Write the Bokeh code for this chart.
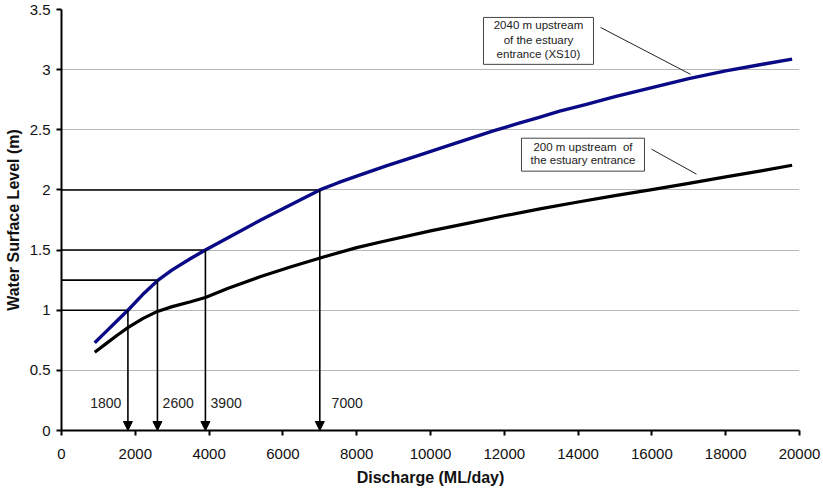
from bokeh.plotting import figure
from bokeh.models import Arrow, NormalHead, ColumnDataSource, FixedTicker, Range1d
from bokeh.core.properties import value
from bokeh.embed import file_html
from bokeh.resources import INLINE

# ---- data ----
q_upper = [900, 1200, 1500, 1800, 2200, 2600, 3000, 3500, 3900, 4500, 5400, 6200,
           7000, 7500, 8000, 8800, 9700, 10500, 11100, 11700, 12400, 12900, 13500,
           14200, 15000, 16000, 17000, 18000, 19000, 19800]
wl_upper = [0.73, 0.82, 0.91, 1.00, 1.13, 1.245, 1.335, 1.43, 1.50, 1.60, 1.75, 1.875,
            2.00, 2.06, 2.115, 2.20, 2.29, 2.37, 2.43, 2.49, 2.555, 2.60, 2.655,
            2.71, 2.775, 2.85, 2.925, 2.99, 3.045, 3.088]

q_lower = [900, 1200, 1500, 1800, 2200, 2600, 3000, 3500, 3900, 4500, 5400, 6200,
           7100, 8000, 8650, 10000, 11000, 12000, 13000, 14000, 15000, 16000, 17000,
           18000, 19000, 19800]
wl_lower = [0.65, 0.72, 0.79, 0.855, 0.93, 0.99, 1.03, 1.07, 1.105, 1.18, 1.28, 1.36,
            1.443, 1.52, 1.567, 1.66, 1.722, 1.785, 1.845, 1.90, 1.952, 2.003, 2.055,
            2.108, 2.16, 2.205]

ref_q = [1800, 2600, 3900, 7000]
ref_wl = [1.0, 1.25, 1.5, 2.0]
ref_labels = ["1800", "2600", "3900", "7000"]

x_ticks = [0, 2000, 4000, 6000, 8000, 10000, 12000, 14000, 16000, 18000, 20000]
x_tick_labels = [str(v) for v in x_ticks]
y_ticks = [0, 0.5, 1, 1.5, 2, 2.5, 3, 3.5]
y_tick_labels = ["0", "0.5", "1", "1.5", "2", "2.5", "3", "3.5"]

note_upper = ["2040 m upstream", "of the estuary", "entrance (XS10)"]
note_lower = ["200 m upstream \u00a0of", "the estuary entrance"]

FONT = "Liberation Sans"

p = figure(width=823, height=491, x_range=Range1d(0, 20000), y_range=Range1d(0, 3.5),
           output_backend="svg", toolbar_location=None,
           min_border_left=61, min_border_right=24, min_border_top=9, min_border_bottom=61)
p.outline_line_color = None
p.background_fill_color = "white"
p.border_fill_color = "white"
p.xgrid.visible = False
p.ygrid.ticker = FixedTicker(ticks=y_ticks)
p.ygrid.grid_line_color = "#b8b8b8"
p.ygrid.grid_line_width = 1

p.xaxis.ticker = FixedTicker(ticks=x_ticks)
p.yaxis.ticker = FixedTicker(ticks=y_ticks)
p.xaxis.major_label_overrides = dict(zip(x_ticks, x_tick_labels))
p.yaxis.major_label_overrides = dict(zip(y_ticks, y_tick_labels))

for ax in (p.xaxis, p.yaxis):
    ax.axis_line_width = 2
    ax.axis_line_color = "black"
    ax.major_tick_line_width = 2
    ax.major_tick_line_color = "black"
    ax.major_tick_in = 0
    ax.major_tick_out = 5
    ax.minor_tick_in = 0
    ax.minor_tick_out = 0
    ax.major_label_text_font = FONT
    ax.major_label_text_font_size = "15px"
    ax.major_label_text_color = "#111111"
    ax.axis_label_text_font = FONT
    ax.axis_label_text_font_size = "16px"
    ax.axis_label_text_font_style = "bold"
    ax.axis_label_text_color = "#111111"

p.xaxis.axis_label = "Discharge (ML/day)"
p.yaxis.axis_label = "Water Surface Level (m)"
p.xaxis.major_label_standoff = 13
p.xaxis.axis_label_standoff = 7
p.yaxis.major_label_standoff = 6
p.yaxis.axis_label_standoff = 5

# reference lines (horizontal) and arrows (vertical)
ref_src = ColumnDataSource(dict(q=ref_q, wl=ref_wl, zero=[0] * len(ref_q), x0=[0] * len(ref_q)))
p.segment(x0="x0", y0="wl", x1="q", y1="wl", source=ref_src, line_color="black", line_width=1.6)
p.add_layout(Arrow(end=NormalHead(size=9, fill_color="black", line_color="black", line_width=1),
                   x_start="q", y_start="wl", x_end="q", y_end="zero", source=ref_src,
                   line_color="black", line_width=1.6))

# curves
p.line(q_lower, wl_lower, line_color="black", line_width=3.2, line_join="round")
p.line(q_upper, wl_upper, line_color="#0a0a86", line_width=3.4, line_join="round")

# reference labels
lab_x = [ref_q[0] - 180, ref_q[1] + 140, ref_q[2] + 140, ref_q[3] + 320]
lab_align = ["right", "left", "left", "left"]
p.text(x=lab_x, y=[0.232] * 4, text=ref_labels, text_align=lab_align,
       text_baseline="middle", text_font=value(FONT), text_font_size="14px",
       text_color="#222222")

# annotation boxes
p.quad(left=[11436, 12466], right=[14417, 15799], bottom=[3.044, 2.156], top=[3.434, 2.43],
       fill_color="white", line_color="#444444", line_width=1)
p.text(x=[12926] * 3, y=[3.367, 3.248, 3.129], text=note_upper, text_align="center",
       text_baseline="middle", text_font=value(FONT), text_font_size="11.5px",
       text_color="#222222")
p.text(x=[14132] * 2, y=[2.358, 2.245], text=note_lower, text_align="center",
       text_baseline="middle", text_font=value(FONT), text_font_size="11.5px",
       text_color="#222222")
p.segment(x0=[14607, 15989], y0=[3.351, 2.339], x1=[17046, 17209], y1=[2.961, 2.131],
          line_color="#222222", line_width=1)

open("out.html", "w").write(file_html(p, INLINE))
